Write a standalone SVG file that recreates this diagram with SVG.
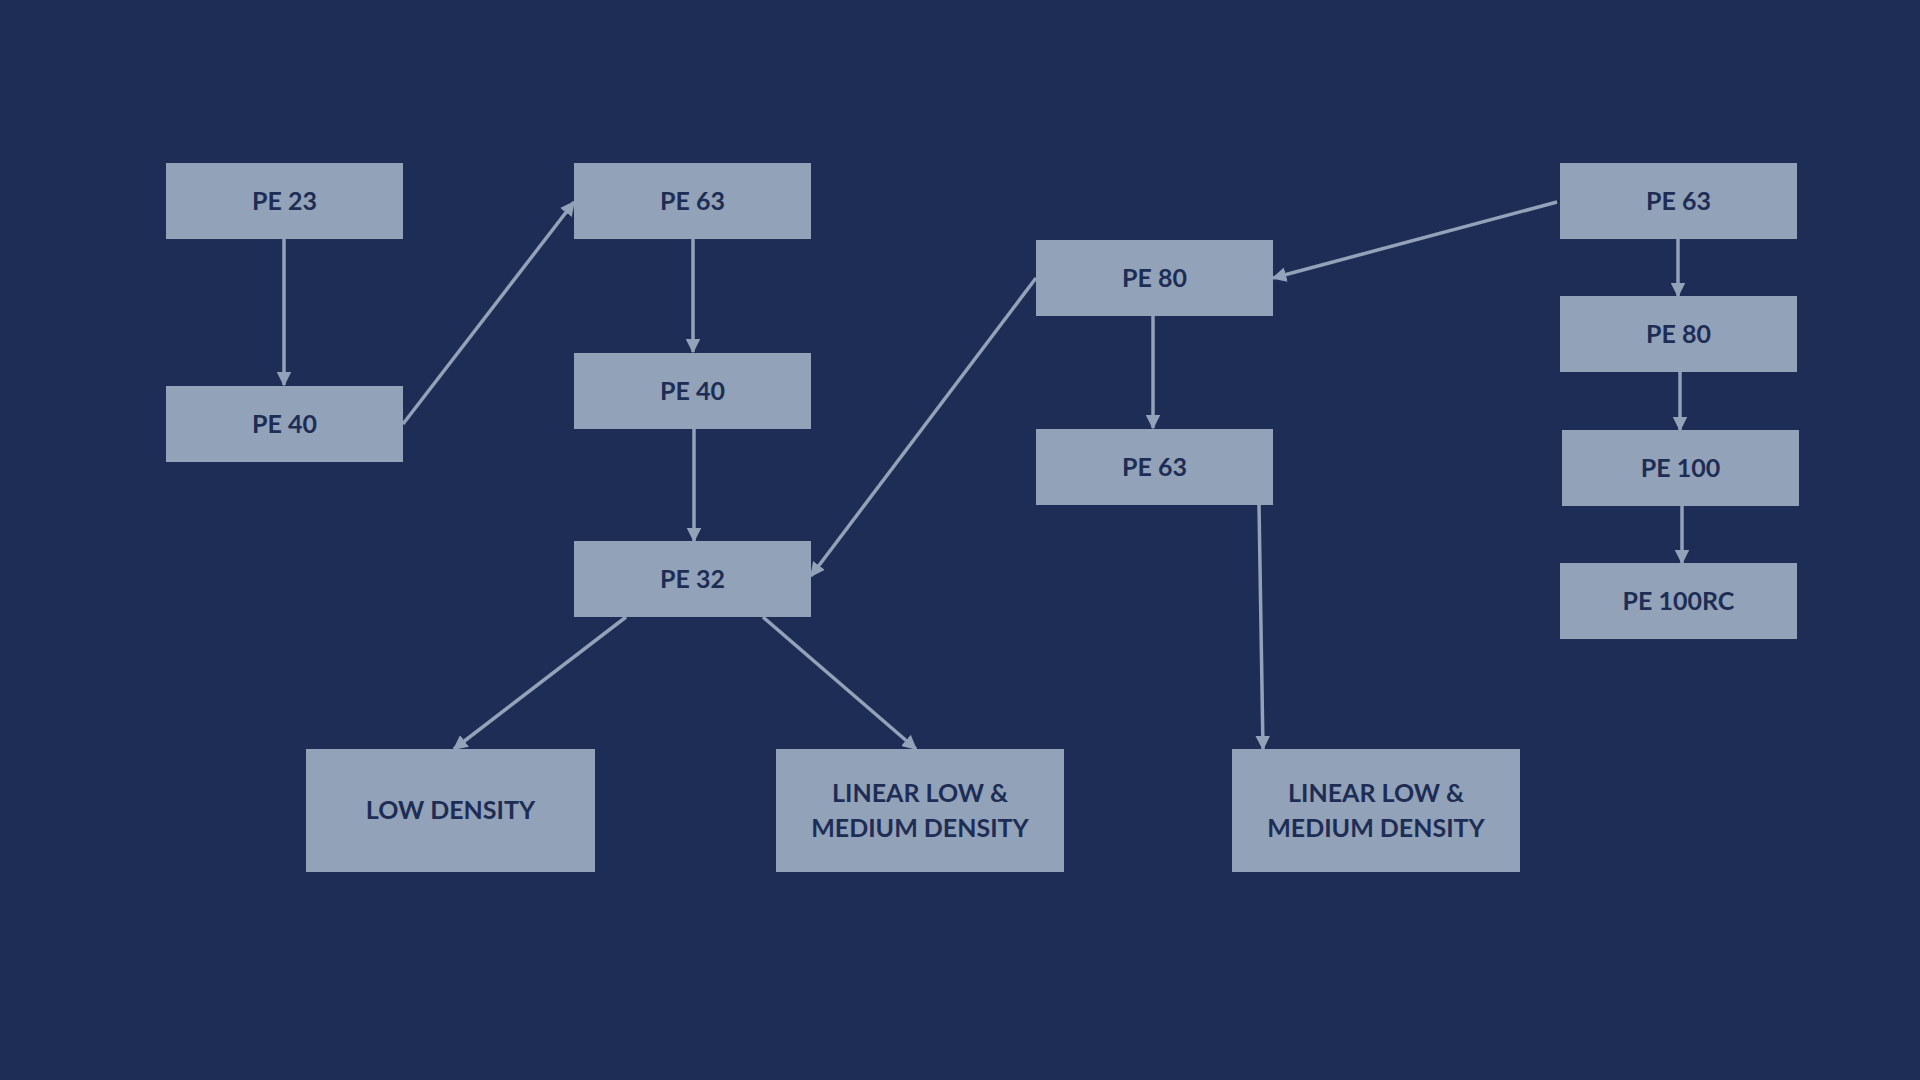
<svg xmlns="http://www.w3.org/2000/svg" width="1920" height="1080" viewBox="0 0 1920 1080">
<style>
.n rect{fill:#92A2B8}
.n text{fill:#1E2D55;font-family:Lato,"Open Sans","Liberation Sans",sans-serif;font-weight:700;font-size:25px;text-anchor:middle}
.c line{stroke:#92A2B8;stroke-width:3.5;fill:none;marker-end:url(#ah)}
</style>
<defs>
<marker id="ah" viewBox="0 0 10 10" refX="9" refY="5" markerWidth="4.2" markerHeight="4.2" markerUnits="strokeWidth" orient="auto">
<path d="M0,0 L10,5 L0,10 Z" fill="#92A2B8"/>
</marker>
</defs>
<rect width="1920" height="1080" fill="#1E2D55"/>
<g class="c">
<line x1="284" y1="239" x2="284" y2="385"/>
<line x1="403" y1="424" x2="574" y2="202"/>
<line x1="693" y1="239" x2="693" y2="352"/>
<line x1="694" y1="429" x2="694" y2="541"/>
<line x1="1036" y1="278" x2="811" y2="576"/>
<line x1="1557" y1="202" x2="1273" y2="278"/>
<line x1="1153" y1="316" x2="1153" y2="428"/>
<line x1="1259" y1="505" x2="1263" y2="749"/>
<line x1="626" y1="617" x2="454" y2="749"/>
<line x1="763" y1="617" x2="916" y2="749"/>
<line x1="1678" y1="239" x2="1678" y2="296"/>
<line x1="1680" y1="372" x2="1680" y2="430"/>
<line x1="1682" y1="506" x2="1682" y2="563"/>
</g>
<g id="n-pe23" class="n"><rect x="166" y="163" width="237" height="76"/><text x="284.5" y="210">PE 23</text></g>
<g id="n-pe40a" class="n"><rect x="166" y="386" width="237" height="76"/><text x="284.5" y="433">PE 40</text></g>
<g id="n-pe63a" class="n"><rect x="574" y="163" width="237" height="76"/><text x="692.5" y="210">PE 63</text></g>
<g id="n-pe40b" class="n"><rect x="574" y="353" width="237" height="76"/><text x="692.5" y="400">PE 40</text></g>
<g id="n-pe32" class="n"><rect x="574" y="541" width="237" height="76"/><text x="692.5" y="588">PE 32</text></g>
<g id="n-pe80a" class="n"><rect x="1036" y="240" width="237" height="76"/><text x="1154.5" y="287">PE 80</text></g>
<g id="n-pe63b" class="n"><rect x="1036" y="429" width="237" height="76"/><text x="1154.5" y="476">PE 63</text></g>
<g id="n-pe63c" class="n"><rect x="1560" y="163" width="237" height="76"/><text x="1678.5" y="210">PE 63</text></g>
<g id="n-pe80b" class="n"><rect x="1560" y="296" width="237" height="76"/><text x="1678.5" y="343">PE 80</text></g>
<g id="n-pe100" class="n"><rect x="1562" y="430" width="237" height="76"/><text x="1680.5" y="477">PE 100</text></g>
<g id="n-pe100rc" class="n"><rect x="1560" y="563" width="237" height="76"/><text x="1678.5" y="610">PE 100RC</text></g>
<g id="n-low" class="n"><rect x="306" y="749" width="289" height="123"/><text x="450.5" y="819">LOW DENSITY</text></g>
<g id="n-lin1" class="n"><rect x="776" y="749" width="288" height="123"/><text x="920" y="802">LINEAR LOW &amp;</text><text x="920" y="837">MEDIUM DENSITY</text></g>
<g id="n-lin2" class="n"><rect x="1232" y="749" width="288" height="123"/><text x="1376" y="802">LINEAR LOW &amp;</text><text x="1376" y="837">MEDIUM DENSITY</text></g>
</svg>
